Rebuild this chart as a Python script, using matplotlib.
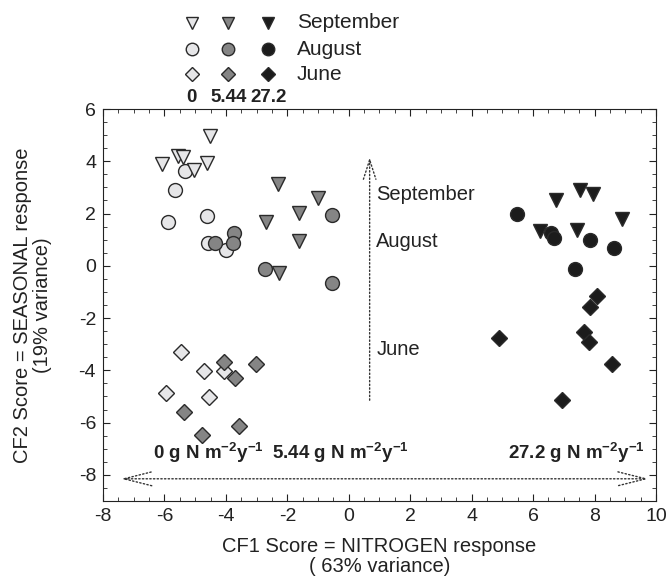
import matplotlib
matplotlib.use('Agg')
import matplotlib.pyplot as plt
from matplotlib.ticker import MultipleLocator

plt.rcParams['font.family'] = ['Liberation Sans', 'DejaVu Sans']
plt.rcParams['mathtext.fontset'] = 'custom'
plt.rcParams['mathtext.rm'] = 'Liberation Sans'
plt.rcParams['mathtext.bf'] = 'Liberation Sans:bold'
plt.rcParams['axes.unicode_minus'] = False

# 0 g N (light grey)
sep_0_x = [-4.53, -5.56, -5.39, -6.07, -5.04, -4.60]
sep_0_y = [4.95, 4.19, 4.16, 3.90, 3.68, 3.93]
aug_0_x = [-5.34, -5.64, -5.89, -4.60, -4.58, -3.98]
aug_0_y = [3.61, 2.89, 1.66, 1.89, 0.87, 0.61]
jun_0_x = [-5.45, -4.72, -4.06, -5.96, -4.56]
jun_0_y = [-3.28, -4.02, -4.02, -4.85, -5.03]

# 5.44 g N (mid grey)
sep_5_x = [-2.30, -1.00, -1.63, -2.70, -1.63, -2.28]
sep_5_y = [3.14, 2.59, 2.04, 1.66, 0.96, -0.28]
aug_5_x = [-4.34, -3.75, -3.77, -2.74, -0.54, -0.53]
aug_5_y = [0.87, 1.25, 0.87, -0.13, 1.95, -0.66]
jun_5_x = [-4.06, -3.01, -3.71, -5.36, -3.58, -4.77]
jun_5_y = [-3.67, -3.75, -4.28, -5.58, -6.13, -6.47]

# 27.2 g N (black)
sep_27_x = [7.52, 7.96, 6.74, 8.88, 6.22, 7.42]
sep_27_y = [2.91, 2.75, 2.50, 1.79, 1.34, 1.38]
aug_27_x = [5.49, 6.57, 6.68, 7.85, 8.63, 7.38]
aug_27_y = [1.98, 1.25, 1.06, 0.97, 0.70, -0.11]
jun_27_x = [8.09, 7.85, 4.90, 7.66, 7.83, 8.58, 6.93]
jun_27_y = [-1.15, -1.56, -2.77, -2.54, -2.90, -3.77, -5.13]

months = ['September', 'August', 'June']
doses = ['0', '5.44', '27.2']
dose_colors = ['#e6e6e8', '#858585', '#1c1c1c']
month_markers = ['v', 'o', 'D']
month_sizes = [9.5, 10, 8]

groups = [
    [(sep_0_x, sep_0_y), (aug_0_x, aug_0_y), (jun_0_x, jun_0_y)],
    [(sep_5_x, sep_5_y), (aug_5_x, aug_5_y), (jun_5_x, jun_5_y)],
    [(sep_27_x, sep_27_y), (aug_27_x, aug_27_y), (jun_27_x, jun_27_y)],
]

txt = '#222222'
fig = plt.figure(figsize=(6.71, 5.79), dpi=100)
ax = fig.add_axes([0.1535, 0.1347, 0.8241, 0.677])

# draw June first so upper points sit on top
for d, dose_groups in enumerate(groups):
    for m in [2, 1, 0]:
        xs, ys = dose_groups[m]
        ax.plot(xs, ys, linestyle='none', marker=month_markers[m],
                markersize=month_sizes[m], markerfacecolor=dose_colors[d],
                markeredgecolor='#2a2a2a', markeredgewidth=1.0, zorder=3)

ax.set_xlim(-8, 10)
ax.set_ylim(-9, 6)
ax.xaxis.set_major_locator(MultipleLocator(2))
ax.yaxis.set_major_locator(MultipleLocator(2))
ax.xaxis.set_minor_locator(MultipleLocator(0.5))
ax.yaxis.set_minor_locator(MultipleLocator(0.5))
ax.tick_params(which='both', direction='in', top=True, right=True,
               colors='#222222', labelsize=14, labelcolor=txt)
ax.tick_params(which='major', length=5)
ax.tick_params(which='minor', length=3)
ax.tick_params(axis='x', pad=5)
ax.tick_params(axis='y', pad=5)
for s in ax.spines.values():
    s.set_color('#222222')

ax.set_xlabel('CF1 Score = NITROGEN response\n( 63% variance)',
              fontsize=14.5, color=txt, linespacing=1.05, labelpad=9)
ax.set_ylabel('CF2 Score = SEASONAL response\n(19% variance)',
              fontsize=14.5, color=txt, linespacing=1.05, labelpad=19)

# seasonal arrow
ax.annotate('', xy=(0.68, 4.25), xytext=(0.68, -5.25),
            arrowprops=dict(arrowstyle='->,head_length=1.4,head_width=0.45',
                            linestyle=':', lw=1.0, color='#333333'))
ax.text(0.9, 2.72, 'September', fontsize=14.5, color=txt, va='center')
ax.text(0.9, 0.93, 'August', fontsize=14.5, color=txt, va='center')
ax.text(0.9, -3.19, 'June', fontsize=14.5, color=txt, va='center')

# nitrogen arrow
ax.annotate('', xy=(9.85, -8.15), xytext=(-7.5, -8.15),
            arrowprops=dict(arrowstyle='<->,head_length=2.0,head_width=0.5',
                            linestyle=':', lw=1.0, color='#333333'))
unit = r' g N m$^{\mathbf{-2}}$y$^{\mathbf{-1}}$'
ax.text(-6.38, -7.15, '0' + unit, fontsize=13.5,
        fontweight='bold', color=txt, va='center', ha='left')
ax.text(-2.5, -7.15, '5.44' + unit, fontsize=13.5,
        fontweight='bold', color=txt, va='center', ha='left')
ax.text(9.64, -7.15, '27.2' + unit, fontsize=13.5,
        fontweight='bold', color=txt, va='center', ha='right')

# legend block above the axes, in pixel coordinates
lg = fig.add_axes([0, 0, 1, 1], zorder=5)
lg.set_xlim(0, 671)
lg.set_ylim(579, 0)
lg.axis('off')
col_x = [191.7, 228.3, 268.3]
row_y = [22.7, 49.3, 74.0]
for d in range(3):
    for m in range(3):
        lg.plot(col_x[d], row_y[m], marker=month_markers[m],
                markersize=month_sizes[m] - 1, markerfacecolor=dose_colors[d],
                markeredgecolor='#2a2a2a', markeredgewidth=1.0)
    lg.text(col_x[d], 97, doses[d], fontsize=13.5, fontweight='bold',
            color=txt, ha='center', va='center')
for m in range(3):
    lg.text(296.7, row_y[m], months[m], fontsize=15, color=txt, va='center')

fig.savefig('out.png', dpi=100)
